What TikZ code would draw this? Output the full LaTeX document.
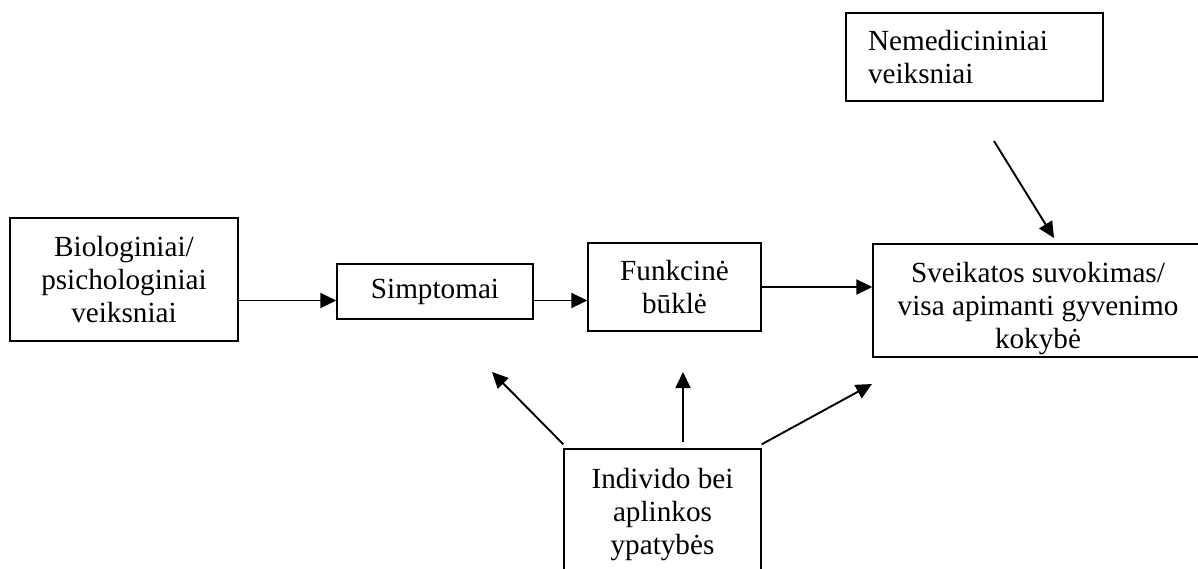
\documentclass[tikz,border=0pt]{standalone}
\usepackage{fontspec}
\setmainfont{Liberation Serif}
\usepackage{tikz}
\usetikzlibrary{arrows.meta}
\usetikzlibrary{positioning}

\tikzset{
  txt/.style={inner sep=0pt, align=center, font=\fontsize{14.6}{16.3}\selectfont},
  box/.style={txt, draw, line width=0.7pt},
  arr/.style={line width=0.95pt, -{Triangle[length=8pt,width=7.5pt]}},
}

\begin{document}
\begin{tikzpicture}[x=0.5pt, y=-0.5pt]
    \useasboundingbox (0,0) rectangle (1198,568);
    \clip (0,0) rectangle (1198,568);

    \node[box, minimum width=114pt, minimum height=61.5pt] (bio) at (124,279.5)
      {Biologiniai/\\psichologiniai\\veiksniai};
    \node[box, minimum width=98pt, minimum height=27.5pt] (simp) at (435,291.5) {Simptomai};
    \node[box, minimum width=86.5pt, minimum height=44pt] (funk) at (674.5,287)
      {Funkcinė\\būklė};
    \node[box, minimum width=165pt, minimum height=56.5pt] (sveik) at (1038,300.5) {};
    \node[txt] (sveiktxt) at ([yshift=-4pt]sveik.center)
      {Sveikatos suvokimas/\\visa apimanti gyvenimo\\kokybė};
    \node[box, align=left, inner xsep=11pt, text width=106.5pt, minimum height=44pt] (nem)
      at (974.5,57) {Nemedicininiai\\veiksniai};
    \node[box, minimum width=98.5pt, minimum height=65.5pt] (indiv) at (662.5,514.5)
      {Individo bei\\aplinkos\\ypatybės};

    % free ends
    \coordinate (n1) at (994,141);
    \coordinate (n2) at (1054,238);
    \coordinate (i1) at (492,372);
    \coordinate (i2) at (683,372);
    \coordinate (i3) at (872,384);

    \draw[arr] ([yshift=-10.5pt]bio.east) -- ([yshift=-10.5pt]bio.east -| simp.west);
    \draw[arr] ([yshift=-4.5pt]simp.east) -- ([yshift=-4.5pt]simp.east -| funk.west);
    \draw[arr] (funk.east) -- (funk.east -| sveik.west);
    \draw[arr] (n1) -- (n2);

    \draw[arr] ([yshift=2pt]indiv.north west) -- (i1);
    \draw[arr] (indiv.north -| i2) ++(0,-6) -- (i2);
    \draw[arr] ([yshift=2pt]indiv.north east) -- (i3);
  \end{tikzpicture}
\end{document}
